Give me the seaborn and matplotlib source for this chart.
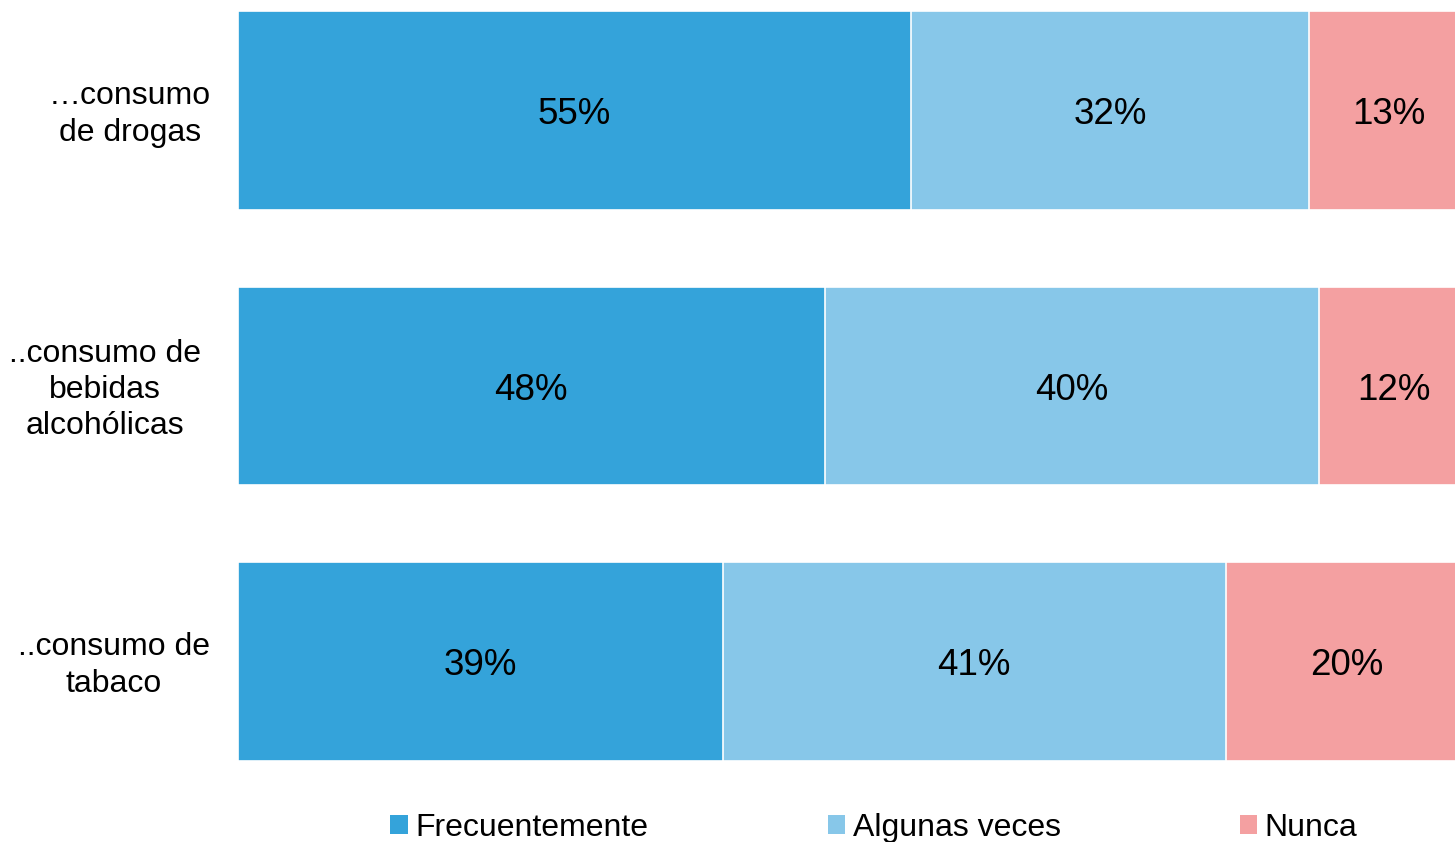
import matplotlib
matplotlib.use("Agg")
import pandas as pd
import matplotlib.pyplot as plt
import matplotlib.transforms as mtransforms
from matplotlib.patches import Patch
import seaborn as sns

# Data (shares per row, in %)
categories = ["…consumo\nde drogas", "..consumo de\nbebidas\nalcohólicas", "..consumo de\ntabaco"]
frecuentemente = [54.7, 47.7, 39.4]
algunas_veces = [32.4, 40.2, 40.9]
nunca = [12.9, 12.1, 19.7]
series_names = ["Frecuentemente", "Algunas veces", "Nunca"]
colors = ["#34A3DA", "#87C7E9", "#F4A0A1"]

df = pd.DataFrame({
    "categoria": categories,
    "Frecuentemente": frecuentemente,
    "Algunas veces": algunas_veces,
    "Nunca": nunca,
})
# cumulative totals for the stacked look
df["cum1"] = df["Frecuentemente"]
df["cum2"] = df["cum1"] + df["Algunas veces"]
df["cum3"] = df["cum2"] + df["Nunca"]

sns.set_theme(style="white")
plt.rcParams["font.family"] = ["Liberation Sans", "DejaVu Sans"]
plt.rcParams["text.color"] = "black"

W, H = 1455, 842
fig = plt.figure(figsize=(W / 100, H / 100), dpi=100)
ax = fig.add_axes([238 / W, 1 - 790 / H, 1 - 238 / W, 790 / H])

# draw the widest total first, then overlay the shorter cumulative bars
for col, color in zip(["cum3", "cum2", "cum1"], colors[::-1]):
    sns.barplot(data=df, x=col, y="categoria", orient="h", color=color,
                width=0.72, saturation=1, edgecolor="white", linewidth=1.2, ax=ax)

# percentage labels in the middle of each segment (nudged a few px down)
down = mtransforms.ScaledTranslation(0, -4 / 100, fig.dpi_scale_trans)
for i, row in df.iterrows():
    left = 0
    for name in series_names:
        v = row[name]
        ax.text(left + v / 2, i, f"{v:.0f}%", ha="center", va="center",
                fontsize=26.5, color="black", transform=ax.transData + down)
        left += v

ax.set_xlim(0, 100 * 1217 / 1230)
ax.set_ylim(2.466, -0.401)
ax.set_xticks([])
ax.set_yticks([])
ax.set_xlabel("")
ax.set_ylabel("")
sns.despine(ax=ax, left=True, bottom=True)

# category labels, centred to the left of the bars
trans = mtransforms.blended_transform_factory(fig.transFigure, ax.transData)
label_x = [130, 105, 114]
for i, (lab, px) in enumerate(zip(categories, label_x)):
    ax.text(px / W, i, lab, transform=trans + down, ha="center", va="center",
            multialignment="center", fontsize=23, linespacing=1.28, color="black")

handles = [Patch(facecolor=c, edgecolor="none", label=n) for c, n in zip(colors, series_names)]
fig.legend(handles=handles, loc="center", bbox_to_anchor=(874 / W, 1 - 828 / H),
           ncol=3, frameon=False, fontsize=23, handlelength=0.54, handleheight=0.54,
           handletextpad=0.25, columnspacing=5.6, labelcolor="black")

fig.savefig("out.png", dpi=100)
